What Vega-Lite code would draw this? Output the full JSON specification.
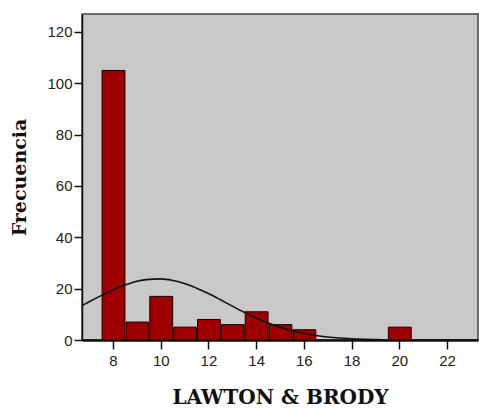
{
  "$schema": "https://vega.github.io/schema/vega-lite/v6.json",
  "width": 396,
  "height": 326,
  "autosize": {"type": "none"},
  "padding": {"left": 82, "top": 14, "right": 1, "bottom": 68},
  "background": "white",
  "config": {
    "view": {"fill": "#c9c9c9", "stroke": "#444", "strokeWidth": 1.5},
    "axis": {"grid": false, "labelFont": "Liberation Sans", "labelFontSize": 15, "labelColor": "#222", "tickColor": "#111", "domainColor": "#111", "titleFont": "DejaVu Serif", "titleFontWeight": "bold", "titleColor": "#111"}
  },
  "datasets": {
    "bars": [
      {"lo": 7.5, "hi": 8.5, "n": 105},
      {"lo": 8.5, "hi": 9.5, "n": 7},
      {"lo": 9.5, "hi": 10.5, "n": 17},
      {"lo": 10.5, "hi": 11.5, "n": 5},
      {"lo": 11.5, "hi": 12.5, "n": 8},
      {"lo": 12.5, "hi": 13.5, "n": 6},
      {"lo": 13.5, "hi": 14.5, "n": 11},
      {"lo": 14.5, "hi": 15.5, "n": 6},
      {"lo": 15.5, "hi": 16.5, "n": 4},
      {"lo": 19.5, "hi": 20.5, "n": 5}
    ],
    "curve": [
      {"x": 6.7, "y": 13.4}, {"x": 7, "y": 14.9}, {"x": 7.5, "y": 17.3}, {"x": 8, "y": 19.6},
      {"x": 8.5, "y": 21.4}, {"x": 9, "y": 22.9}, {"x": 9.5, "y": 23.6}, {"x": 10, "y": 23.8},
      {"x": 10.5, "y": 23.2}, {"x": 11, "y": 22.0}, {"x": 11.5, "y": 20.2}, {"x": 12, "y": 18.1},
      {"x": 12.5, "y": 15.7}, {"x": 13, "y": 13.2}, {"x": 13.5, "y": 10.8}, {"x": 14, "y": 8.6},
      {"x": 14.5, "y": 6.6}, {"x": 15, "y": 5.0}, {"x": 15.5, "y": 3.6}, {"x": 16, "y": 2.55},
      {"x": 16.5, "y": 1.75}, {"x": 17, "y": 1.17}, {"x": 17.5, "y": 0.76}, {"x": 18, "y": 0.48},
      {"x": 18.5, "y": 0.29}, {"x": 19, "y": 0.17}, {"x": 19.5, "y": 0.1}, {"x": 20, "y": 0.055},
      {"x": 21, "y": 0.015}, {"x": 22, "y": 0.003}, {"x": 23.3, "y": 0}
    ]
  },
  "layer": [
    {
      "data": {"name": "bars"},
      "mark": {"type": "bar", "color": "#9e0000", "stroke": "#1a0000", "strokeWidth": 1},
      "encoding": {
        "x": {"field": "lo", "type": "quantitative", "bin": "binned",
              "scale": {"domain": [6.7, 23.3], "nice": false, "zero": false},
              "axis": {"values": [8, 10, 12, 14, 16, 18, 20, 22], "title": "LAWTON & BRODY", "titleFontSize": 20, "titleBaseline": "alphabetic", "titleY": 63, "tickSize": 9, "tickWidth": 1.5, "labelPadding": 4, "domainWidth": 2.5, "labelFlush": false}},
        "x2": {"field": "hi"},
        "y": {"field": "n", "type": "quantitative",
              "scale": {"domain": [0, 127], "nice": false},
              "axis": {"values": [0, 20, 40, 60, 80, 100, 120], "title": "Frecuencia", "titleFontSize": 19, "titleBaseline": "middle", "titleX": -63, "tickSize": 8, "tickWidth": 1.5, "labelPadding": 2, "domainWidth": 1.5}}
      }
    },
    {
      "data": {"name": "curve"},
      "mark": {"type": "line", "color": "#111", "strokeWidth": 1.6, "interpolate": "monotone", "clip": true},
      "encoding": {
        "x": {"field": "x", "type": "quantitative"},
        "y": {"field": "y", "type": "quantitative"}
      }
    }
  ]
}
